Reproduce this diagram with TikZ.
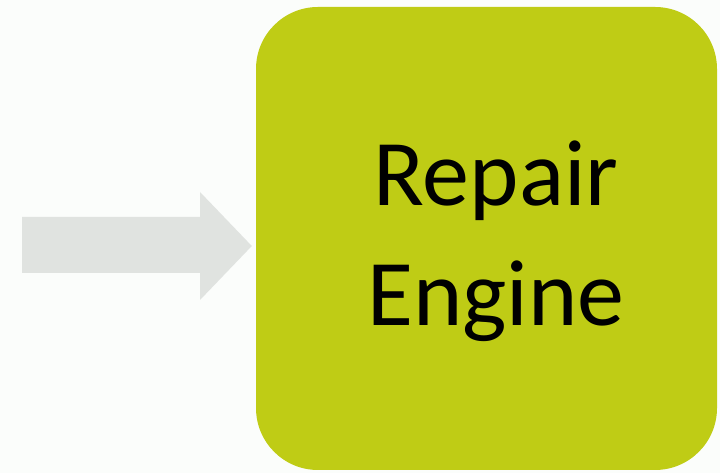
\documentclass[tikz,border=0pt]{standalone}
\usepackage{fontspec}
\setmainfont{Carlito}
\usepackage{xcolor}
\usepackage{tikz}
\usetikzlibrary{positioning,calc}
\definecolor{enginegreen}{HTML}{BFCC15}
\definecolor{feedgrey}{HTML}{E0E3E0}
\definecolor{pagebg}{HTML}{FBFDFB}

\begin{document}
\begin{tikzpicture}[
  x=1pt, y=1pt,
  enginebox/.style={fill=enginegreen, rounded corners=62pt, minimum width=461pt,
                    minimum height=463pt, inner sep=0pt, align=center,
                    font=\fontsize{94}{120}\selectfont, text=black},
  feedarrow/.style={fill=feedgrey},
]
% page frame, 720 x 473
\fill[pagebg] (0,0) rectangle (720,473);
\useasboundingbox (0,0) rectangle (720,473);

% --- Repair engine block
\node[enginebox] (engine) at (486.5,234.5) {};
\node[font=\fontsize{94}{120}\selectfont, align=center] (enginelbl) at (496,232) {Repair\\Engine};

% --- Incoming block arrow (tip just short of the block)
\def\shaftlo{200} % shaft bottom
\def\shafthi{256} % shaft top
\coordinate (tip) at ($(engine.west)+(-4,-7.5)$);
\fill[feedarrow] (22,\shaftlo) -- (200,\shaftlo) -- (200,173) -- (tip)
  -- (200,281) -- (200,\shafthi) -- (22,\shafthi) -- cycle;
\end{tikzpicture}
\end{document}
